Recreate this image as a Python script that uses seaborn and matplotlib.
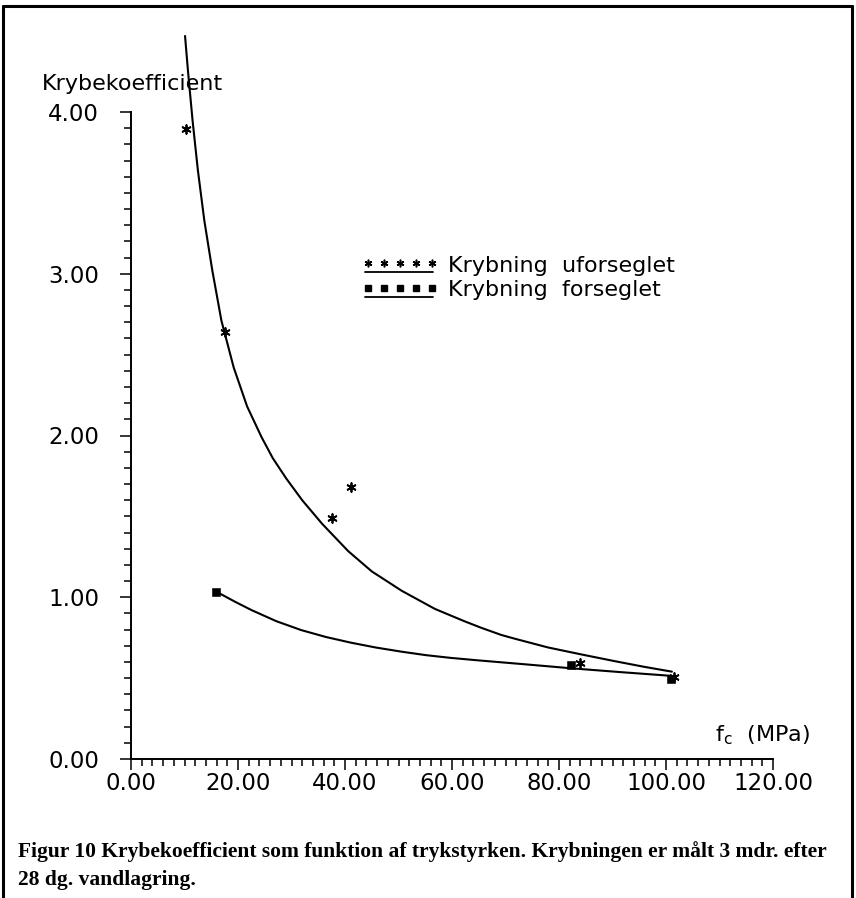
import numpy as np
import pandas as pd
import matplotlib
matplotlib.use("Agg")
import matplotlib.pyplot as plt
from matplotlib.lines import Line2D
from matplotlib.ticker import MultipleLocator, FormatStrFormatter, FixedLocator
import seaborn as sns

# ---------------- data ----------------
upper_x = [10.1, 10.66, 11.5, 12.5, 13.7, 15.2, 16.9, 19.2, 21.7, 24.4, 26.5,
           29.0, 32.0, 35.7, 40.6, 45.0, 50.6, 56.8, 62.3, 65.4, 69.2, 71.7,
           77.9, 84.1, 90.4, 95.9, 101.1]
upper_y = [4.47, 4.25, 3.95, 3.64, 3.33, 3.02, 2.71, 2.42, 2.18, 1.99, 1.86,
           1.735, 1.60, 1.455, 1.285, 1.16, 1.04, 0.928, 0.852, 0.812, 0.767, 0.744,
           0.69, 0.647, 0.605, 0.570, 0.54]

lower_x = [15.87, 19.40, 22.50, 27.16, 31.81, 36.47, 41.13, 45.80, 50.47, 55.13,
           59.81, 64.47, 69.14, 73.81, 82.22, 91.56, 101.02]
lower_y = [1.036, 0.973, 0.921, 0.852, 0.797, 0.754, 0.719, 0.689, 0.664, 0.642,
           0.625, 0.611, 0.598, 0.585, 0.561, 0.537, 0.514]

ufors_x = [10.25, 17.5, 37.6, 41.2, 83.9, 101.55]
ufors_y = [3.894, 2.637, 1.49, 1.68, 0.593, 0.504]

fors_x = [15.9, 82.3, 100.85]
fors_y = [1.035, 0.584, 0.493]

legend_labels = ["Krybning  uforseglet", "Krybning  forseglet"]
y_label = "Krybekoefficient"
x_label = "f$_\\mathregular{c}$  (MPa)"
caption_1 = "Figur 10 Krybekoefficient som funktion af trykstyrken. Krybningen er målt 3 mdr. efter"
caption_2 = "28 dg. vandlagring."

# ---------------- figure ----------------
sns.set_theme(style="white")
plt.rcParams["font.family"] = ["DejaVu Sans"]

W, H = 856, 898
fig = plt.figure(figsize=(W / 100, H / 100), dpi=100)
fig.patch.set_facecolor("white")

ax_left, ax_right, ax_bottom = 131, 773, 759
y_top_val = 4.5
px_per_unit = 161.75
ax = fig.add_axes([ax_left / W, (H - ax_bottom) / H,
                   (ax_right - ax_left) / W, y_top_val * px_per_unit / H])
ax.set_facecolor("white")

df_up = pd.DataFrame({"x": upper_x, "y": upper_y})
df_lo = pd.DataFrame({"x": lower_x, "y": lower_y})
df_uf = pd.DataFrame({"x": ufors_x, "y": ufors_y})
df_fo = pd.DataFrame({"x": fors_x, "y": fors_y})

sns.lineplot(data=df_up, x="x", y="y", ax=ax, color="black", lw=1.5,
             sort=False, estimator=None)
sns.lineplot(data=df_lo, x="x", y="y", ax=ax, color="black", lw=1.5,
             sort=False, estimator=None)
sns.scatterplot(data=df_uf, x="x", y="y", ax=ax, marker=(6, 2, 0), s=40,
                color="black", linewidth=1.3, edgecolor="black", zorder=5)
sns.scatterplot(data=df_fo, x="x", y="y", ax=ax, marker="s", s=26,
                color="black", edgecolor="black", zorder=5)

ax.set_xlim(0, 120)
ax.set_ylim(0, y_top_val)
ax.set_xlabel("")
ax.set_ylabel("")

for s in ["top", "right"]:
    ax.spines[s].set_visible(False)
for s in ["left", "bottom"]:
    ax.spines[s].set_color("black")
    ax.spines[s].set_linewidth(1.4)
ax.spines["left"].set_bounds(0, 4)
ax.spines["bottom"].set_bounds(0, 120)

ax.xaxis.set_major_locator(MultipleLocator(20))
ax.xaxis.set_minor_locator(MultipleLocator(2))
ax.set_yticks([0, 1, 2, 3, 4])
ax.yaxis.set_minor_locator(FixedLocator(np.arange(0, 4.001, 0.1)))
ax.xaxis.set_major_formatter(FormatStrFormatter("%.2f"))
ax.yaxis.set_major_formatter(FormatStrFormatter("%.2f"))
ax.tick_params(which="both", direction="out", color="black", width=1.1,
               bottom=True, left=True, top=False, right=False)
ax.tick_params(which="major", length=8, labelsize=16.5, labelcolor="black")
ax.tick_params(which="minor", length=5)
ax.tick_params(axis="y", which="major", pad=15)
ax.tick_params(axis="x", which="major", pad=1.5)
ax.grid(False)

# axis titles
fig.text(41.7 / W, 1 - 90 / H, y_label, ha="left", va="baseline",
         fontsize=16, color="black")
ax.text((810 - ax_left) / (ax_right - ax_left), (ax_bottom - 741) / (y_top_val * px_per_unit),
        x_label, transform=ax.transAxes, ha="right", va="baseline",
        fontsize=16, color="black")

# legend (drawn by hand to mimic the original)
def ax_xy(px, py):
    return ((px - ax_left) / (ax_right - ax_left),
            (ax_bottom - py) / (y_top_val * px_per_unit))

mx = [ax_xy(p, 0)[0] for p in np.linspace(368, 432, 5)]
y1m = ax_xy(0, 263)[1]
y1l = ax_xy(0, 272)[1]
y2m = ax_xy(0, 288)[1]
y2l = ax_xy(0, 297)[1]
lx0, lx1 = ax_xy(365, 0)[0], ax_xy(433, 0)[0]
ax.plot(mx, [y1m] * 5, ls="none", marker=(6, 2, 0), ms=5.5, mew=1.1,
        color="black", transform=ax.transAxes, clip_on=False)
ax.plot([lx0, lx1], [y1l, y1l], color="black", lw=1.3, transform=ax.transAxes,
        clip_on=False)
ax.plot(mx, [y2m] * 5, ls="none", marker="s", ms=4, color="black",
        transform=ax.transAxes, clip_on=False)
ax.plot([lx0, lx1], [y2l, y2l], color="black", lw=1.3, transform=ax.transAxes,
        clip_on=False)
tx = ax_xy(448, 0)[0]
ax.text(tx, ax_xy(0, 272)[1], legend_labels[0], transform=ax.transAxes,
        ha="left", va="baseline", fontsize=16, color="black")
ax.text(tx, ax_xy(0, 296)[1], legend_labels[1], transform=ax.transAxes,
        ha="left", va="baseline", fontsize=16, color="black")

# caption
serif = ["Liberation Serif", "DejaVu Serif"]
fig.text(18 / W, 1 - 857 / H, caption_1, ha="left", va="baseline",
         fontsize=15.5, fontweight="bold", family=serif, color="black")
fig.text(18 / W, 1 - 885 / H, caption_2, ha="left", va="baseline",
         fontsize=15.5, fontweight="bold", family=serif, color="black")

# frame border
for (x0, y0, x1, y1) in [(3, 6, 852, 6), (3, 6, 3, H), (852, 6, 852, H)]:
    fig.add_artist(Line2D([x0 / W, x1 / W], [1 - y0 / H, 1 - y1 / H],
                          transform=fig.transFigure, color="black", lw=2.2))

fig.savefig("out.png", dpi=100)
